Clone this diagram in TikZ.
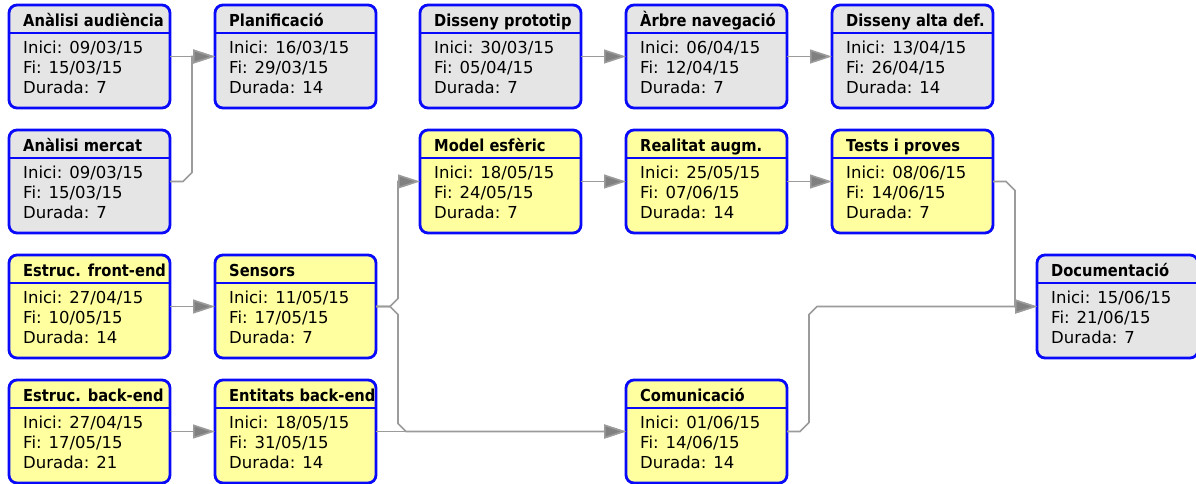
\documentclass[tikz,border=0pt]{standalone}
\usepackage{fontspec}
\setmainfont{DejaVu Sans}
\newfontfamily\titlefont[FakeStretch=0.89]{DejaVu Sans}
\usetikzlibrary{arrows.meta,calc}
\definecolor{boxblue}{RGB}{10,10,250}
\definecolor{taskgray}{RGB}{229,229,229}
\definecolor{taskyellow}{RGB}{255,255,160}
\definecolor{linegray}{RGB}{155,155,155}
\definecolor{tipgray}{RGB}{128,128,128}
\tikzset{
 taskbox/.style={draw=boxblue, line width=2.8pt, rounded corners=8pt, minimum width=161pt, minimum height=103pt, anchor=north west, inner sep=0pt, outer sep=0pt},
 titletext/.style={anchor=base west, inner sep=0pt, font=\titlefont\bfseries\fontsize{16.5}{19}\selectfont},
 bodytext/.style={anchor=base west, inner sep=0pt, font=\fontsize{16.5}{19}\selectfont},
 conn/.style={draw=linegray, line width=1.6pt, -{Triangle[length=22pt,width=14pt,fill=tipgray]}},
 sepline/.style={draw=boxblue, line width=1.2pt}
}
\newcommand\tasknode[8]{%
 \node[taskbox, fill=#4] (#1) at (#2,#3) {};
 \draw[sepline] ($(#1.north west)+(0,28)$) -- ($(#1.north east)+(0,28)$);
 \node[titletext] (#1-t) at ($(#1.north west)+(14,21)$) {#5};
 \node[bodytext] (#1-a) at ($(#1.north west)+(14,48)$) {Inici: #6};
 \node[bodytext] (#1-b) at ($(#1.north west)+(14,68)$) {Fi: #7};
 \node[bodytext] (#1-c) at ($(#1.north west)+(14,88)$) {Durada: #8};
}
\begin{document}
\begin{tikzpicture}[x=1pt,y=-1pt]
\fill[white] (0,0) rectangle (1196,483);
\useasboundingbox (0,0) rectangle (1196,483);
% row 1
\tasknode{aud}{9}{5}{taskgray}{Anàlisi audiència}{09/03/15}{15/03/15}{7}
\tasknode{plan}{215}{5}{taskgray}{Planificació}{16/03/15}{29/03/15}{14}
\tasknode{disp}{420}{5}{taskgray}{Disseny prototip}{30/03/15}{05/04/15}{7}
\tasknode{arb}{626}{5}{taskgray}{Àrbre navegació}{06/04/15}{12/04/15}{7}
\tasknode{alta}{832}{5}{taskgray}{Disseny alta def.}{13/04/15}{26/04/15}{14}
% row 2
\tasknode{merc}{9}{130}{taskgray}{Anàlisi mercat}{09/03/15}{15/03/15}{7}
\tasknode{model}{420}{130}{taskyellow}{Model esfèric}{18/05/15}{24/05/15}{7}
\tasknode{real}{626}{130}{taskyellow}{Realitat augm.}{25/05/15}{07/06/15}{14}
\tasknode{tests}{832}{130}{taskyellow}{Tests i proves}{08/06/15}{14/06/15}{7}
% row 3
\tasknode{front}{9}{255}{taskyellow}{Estruc. front-end}{27/04/15}{10/05/15}{14}
\tasknode{sens}{215}{255}{taskyellow}{Sensors}{11/05/15}{17/05/15}{7}
\tasknode{doc}{1037}{255}{taskgray}{Documentació}{15/06/15}{21/06/15}{7}
% row 4
\tasknode{back}{9}{380}{taskyellow}{Estruc. back-end}{27/04/15}{17/05/15}{21}
\tasknode{ent}{215}{380}{taskyellow}{Entitats back-end}{18/05/15}{31/05/15}{14}
\tasknode{com}{626}{380}{taskyellow}{Comunicació}{01/06/15}{14/06/15}{14}
% connectors
\draw[conn] (aud.east) -- (plan.west);
\draw[conn] (merc.east) -- ++(13,0) -- ++(9,-9) |- (plan.west);
\draw[conn] (disp.east) -- (arb.west);
\draw[conn] (arb.east) -- (alta.west);
\draw[conn] (model.east) -- (real.west);
\draw[conn] (real.east) -- (tests.west);
\draw[conn] (front.east) -- (sens.west);
\draw[conn] (back.east) -- (ent.west);
\draw[conn] (sens.east) -- ++(14,0) -- ++(8,-8) |- (model.west);
\draw[conn] (sens.east) -- ++(14,0) -- ++(8,8) |- ($(com.west)+(-228,-8)$) -- ++(8,8) -- (com.west);
\draw[conn] (ent.east) -- (com.west);
\draw[conn] (tests.east) -- ++(13,0) -- ++(9,9) |- (doc.west);
\draw[conn] (com.east) -- ++(13,0) -- ++(9,-9) |- ($(doc.west)+(-228,8)$) -- ++(8,-8) -- (doc.west);
\end{tikzpicture}
\end{document}
